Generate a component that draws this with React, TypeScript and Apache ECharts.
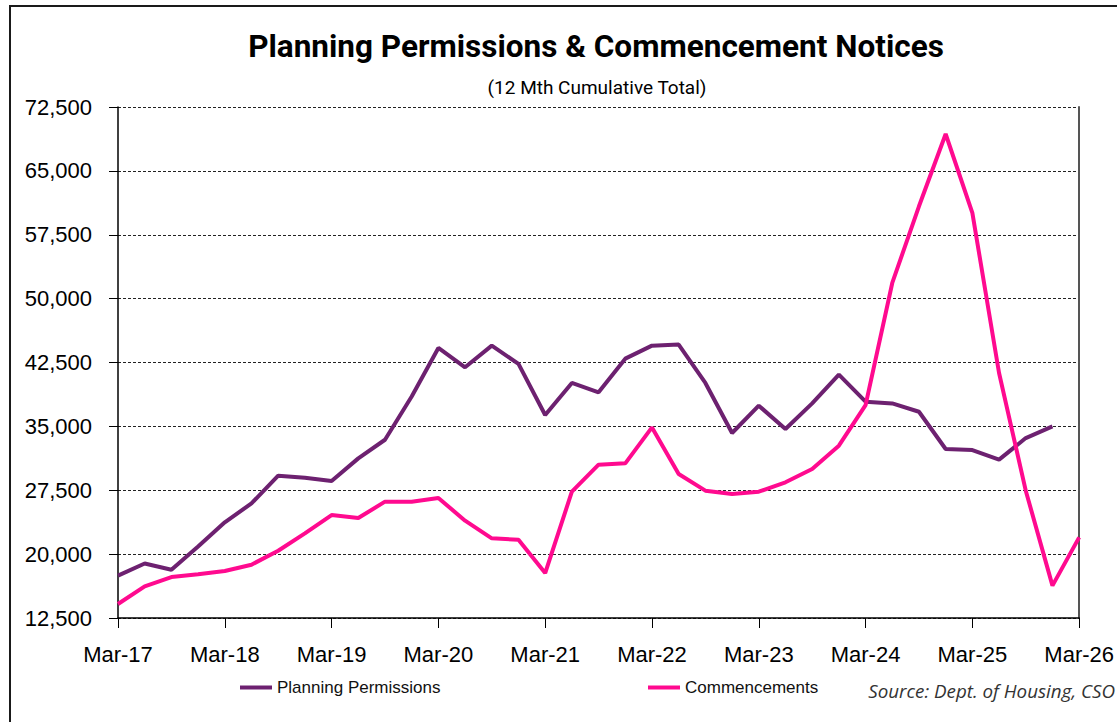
import React, { useEffect, useRef } from "react";
import * as echarts from "echarts";

const quarters = [
  "Mar-17", "Jun-17", "Sep-17", "Dec-17",
  "Mar-18", "Jun-18", "Sep-18", "Dec-18",
  "Mar-19", "Jun-19", "Sep-19", "Dec-19",
  "Mar-20", "Jun-20", "Sep-20", "Dec-20",
  "Mar-21", "Jun-21", "Sep-21", "Dec-21",
  "Mar-22", "Jun-22", "Sep-22", "Dec-22",
  "Mar-23", "Jun-23", "Sep-23", "Dec-23",
  "Mar-24", "Jun-24", "Sep-24", "Dec-24",
  "Mar-25", "Jun-25", "Sep-25", "Dec-25",
  "Mar-26",
];

const planningPermissions = [
  17470, 18900, 18170, 20900,
  23730, 25960, 29210, 28970,
  28580, 31240, 33430, 38500,
  44210, 41940, 44480, 42330,
  36330, 40100, 39000, 42950,
  44480, 44600, 40100, 34220,
  37430, 34690, 37700, 41080,
  37900, 37700, 36720, 32340,
  32220, 31090, 33630, 35000,
  null,
];

const commencements = [
  14140, 16220, 17310, 17630,
  18020, 18760, 20400, 22440,
  24590, 24240, 26160, 26160,
  26590, 23930, 21850, 21700,
  17780, 27330, 30500, 30660,
  34880, 29400, 27450, 27060,
  27330, 28430, 29990, 32730,
  37500, 51840, 60840, 69330,
  60060, 41270, 27450, 16300,
  21970,
];

const yMin = 12500;
const yMax = 72500;
const yStep = 7500;

const titleText = "Planning Permissions & Commencement Notices";
const subtitleText = "(12 Mth Cumulative Total)";
const sourceText = "Source: Dept. of Housing, CSO";

const PURPLE = "#6D2170";
const PINK = "#FF0A8F";

export default function App() {
  const ref = useRef<HTMLDivElement>(null);

  useEffect(() => {
    if (!ref.current) return;
    const chart = echarts.init(ref.current, null, { renderer: "svg" });
    const fmt = (v: number) => v.toLocaleString("en-US");
    chart.setOption({
      animation: false,
      backgroundColor: "#ffffff",
      grid: { left: 118, right: 37, top: 107, bottom: 104, containLabel: false },
      graphic: [
        {
          type: "rect",
          z: 0,
          silent: true,
          shape: { x: 10, y: 6, width: 1300, height: 900 },
          style: { fill: "none", stroke: "#1a1a1a", lineWidth: 2 },
        },
        {
          type: "text",
          x: 596,
          y: 46,
          style: {
            text: titleText,
            fontFamily: "Roboto",
            fontWeight: "bold",
            fontSize: 31.5,
            fill: "#000",
            textAlign: "center",
            textVerticalAlign: "middle",
          },
        },
        {
          type: "text",
          x: 597,
          y: 87,
          style: {
            text: subtitleText,
            fontFamily: "Roboto",
            fontSize: 19,
            fill: "#000",
            textAlign: "center",
            textVerticalAlign: "middle",
          },
        },
        {
          type: "text",
          x: 1115,
          y: 691,
          style: {
            text: sourceText,
            fontFamily: "Open Sans",
            fontStyle: "italic",
            fontSize: 18.8,
            fill: "#333",
            textAlign: "right",
            textVerticalAlign: "middle",
          },
        },
      ],
      legend: [
        {
          data: ["Planning Permissions"],
          left: 235,
          top: 674,
          itemWidth: 32,
          itemHeight: 4,
          icon: "rect",
          textStyle: { fontFamily: "Liberation Sans", fontSize: 17, color: "#111" },
        },
        {
          data: ["Commencements"],
          left: 643,
          top: 674,
          itemWidth: 32,
          itemHeight: 4,
          icon: "rect",
          textStyle: { fontFamily: "Liberation Sans", fontSize: 17, color: "#111" },
        },
      ],
      xAxis: {
        type: "category",
        data: quarters,
        boundaryGap: false,
        axisLine: { lineStyle: { color: "#000", width: 1.5 } },
        axisTick: { show: true, interval: 3, length: 10, inside: false, lineStyle: { color: "#000", width: 1 } },
        axisLabel: {
          interval: 3,
          margin: 25,
          fontFamily: "Liberation Sans",
          fontSize: 22,
          color: "#000",
        },
        splitLine: { show: false },
      },
      yAxis: [
        {
          type: "value",
          min: yMin,
          max: yMax,
          interval: yStep,
          axisLine: { show: true, lineStyle: { color: "#000", width: 1.5 } },
          axisTick: { show: true, length: 9, lineStyle: { color: "#000", width: 1 } },
          axisLabel: {
            margin: 26,
            fontFamily: "Liberation Sans",
            fontSize: 22,
            color: "#000",
            formatter: (v: number) => fmt(v),
          },
          splitLine: { show: true, lineStyle: { color: "#222", width: 1, type: [3, 2] } },
        },
        {
          type: "value",
          position: "right",
          min: yMin,
          max: yMax,
          interval: yStep,
          axisLine: { show: true, lineStyle: { color: "#555", width: 2 } },
          axisTick: { show: false },
          axisLabel: { show: false },
          splitLine: { show: false },
        },
      ],
      series: [
        {
          name: "Planning Permissions",
          type: "line",
          data: planningPermissions,
          yAxisIndex: 0,
          showSymbol: false,
          symbol: "none",
          color: PURPLE,
          lineStyle: { color: PURPLE, width: 4 },
          z: 3,
        },
        {
          name: "Commencements",
          type: "line",
          data: commencements,
          yAxisIndex: 0,
          showSymbol: false,
          symbol: "none",
          color: PINK,
          lineStyle: { color: PINK, width: 4 },
          z: 4,
        },
      ],
    });
    return () => chart.dispose();
  }, []);

  return (
    <div
      ref={ref}
      style={{ position: "fixed", left: 0, top: 0, width: 1117, height: 722, background: "#fff" }}
    />
  );
}
